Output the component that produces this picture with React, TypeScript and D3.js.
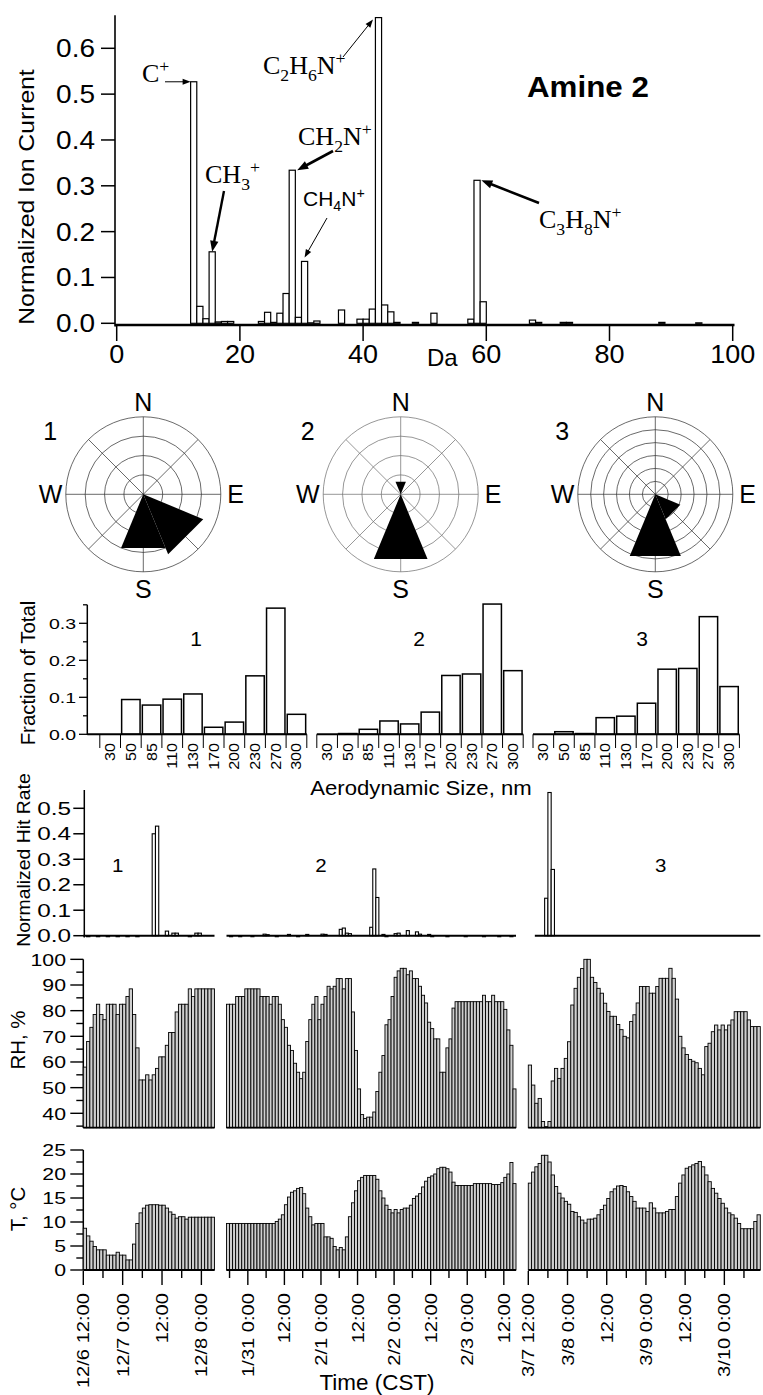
import React from 'react';
import * as d3 from 'd3';

const SANS = '"Liberation Sans", Arial, Helvetica, sans-serif';
const SERIF = '"Liberation Serif", "Times New Roman", Times, serif';

// ---------- Mass spectrum (Amine 2) ----------
const massNumbers = [12, 13, 14, 15, 16, 17, 18, 23, 24, 25, 26, 27, 28, 29, 30, 31, 32, 36, 39, 40, 41, 42, 43, 44, 45, 48, 51, 57, 58, 59, 67, 68, 72, 73, 88, 94];
const ionCurrent = [0.527, 0.037, 0.01, 0.156, 0.003, 0.004, 0.004, 0.004, 0.024, 0.002, 0.022, 0.065, 0.334, 0.013, 0.135, 0.001, 0.005, 0.029, 0.009, 0.009, 0.031, 0.667, 0.04, 0.025, 0.002, 0.002, 0.022, 0.009, 0.312, 0.047, 0.007, 0.002, 0.002, 0.002, 0.002, 0.001];
const massTicks = [0, 20, 40, 60, 80, 100];
const ionTicks = [0, 0.1, 0.2, 0.3, 0.4, 0.5, 0.6];

// ---------- Wind roses (petal length in ring units, 8 compass sectors) ----------
const compass = ['N', 'NE', 'E', 'SE', 'S', 'SW', 'W', 'NW'];
const windRose1 = [0, 0, 0, 3.35, 3.0, 0, 0, 0];
const windRose2 = [0.7, 0, 0, 0, 3.62, 0, 0, 0];
const windRose3 = [0, 0, 0, 2.1, 5.17, 0, 0, 0];
const roseRings = [4, 4, 6];

// ---------- Size distributions ----------
const sizeBins = ['30', '50', '85', '110', '130', '170', '200', '230', '270', '300'];
const sizeFraction1 = [0, 0.094, 0.079, 0.095, 0.109, 0.019, 0.033, 0.158, 0.341, 0.054];
const sizeFraction2 = [0, 0.002, 0.0135, 0.036, 0.028, 0.06, 0.159, 0.163, 0.352, 0.172];
const sizeFraction3 = [0, 0.007, 0.002, 0.045, 0.049, 0.084, 0.176, 0.178, 0.318, 0.129];
const fractionTicks = [0, 0.1, 0.2, 0.3];

// ---------- Hourly time series ----------
const hitRate1 = [0, -0.004, 0, 0, -0.004, 0, 0, -0.004, 0, 0, -0.004, 0, 0, -0.004, 0, 0, -0.004, 0, 0, 0, 0, 0.4, 0.43, 0, 0, 0.018, 0, 0.01, 0.01, 0, 0, 0, -0.004, 0, 0.01, 0.01, 0, 0, 0, 0];
const hitRate2 = [
  0, -0.004, 0, 0, -0.004, 0, 0, 0, -0.004, 0,
  0, 0, 0.006, 0.004, 0, 0, -0.004, 0, 0, 0,
  0.005, 0, 0, -0.004, 0, 0, 0.005, 0, 0, 0,
  0, 0.006, 0.005, 0, 0, 0, 0, 0.025, 0.03, 0.01,
  0.008, 0, 0, 0, 0, 0, 0, 0.033, 0.262, 0.15,
  0, 0.005, -0.004, 0, 0, 0.008, 0.01, 0, 0, 0.02,
  0, 0, 0.015, 0.006, 0, 0, 0.005, -0.004, 0, 0,
  0, 0, -0.004, 0, 0, 0, 0, 0, -0.004, 0,
  0, 0, 0, 0, -0.004, 0, 0, 0, 0, -0.004,
  0, 0, 0, -0.004, 0];
const hitRate3: (number | null)[] = [
  null, null, 0, 0, 0, 0.147, 0.562, 0.26, 0, 0,
  0, 0, 0, 0, 0, 0, 0, 0, 0, 0,
  0, 0, 0, 0, 0, 0, 0, 0, 0, 0,
  0, 0, 0, 0, 0, 0, 0, 0, 0, 0,
  0, 0, 0, 0, 0, 0, 0, 0, 0, 0,
  0, 0, 0, 0, 0, 0, 0, 0, 0, 0,
  0, 0, 0, 0, 0, 0, 0, 0, 0, 0,
  0];

const rh1 = [58, 68, 73.5, 78.5, 82.5, 78.5, 76.5, 82.5, 82.5, 82.5, 78.5, 82.5, 82.5, 85.5, 88.5, 78.5, 65.5, 53, 53, 55, 53, 55, 57.5, 62, 62, 66.5, 71.5, 71.5, 79.5, 82.5, 82.5, 82.5, 88.5, 85.5, 88.5, 88.5, 88.5, 88.5, 88.5, 88.5];
const rh2 = [
  82.5, 82.5, 82.5, 85.5, 85.5, 85.5, 88.5, 88.5, 88.5, 88.5,
  88.5, 85.5, 85.5, 85.5, 82.5, 85.5, 85.5, 82.5, 76.5, 73.5,
  66.5, 64.5, 59.5, 56, 53.5, 56, 68, 76.5, 82.5, 85.5,
  76.5, 82.5, 85.5, 89.5, 88.5, 89.5, 92.5, 92.5, 88.5, 92.5,
  92.5, 79.5, 64.5, 49.5, 39.5, 38, 38.5, 38.5, 40.5, 48.5,
  56, 62.5, 74.5, 76.5, 85.5, 93, 95.5, 96.5, 96.5, 94,
  95.5, 92.5, 92.5, 89.5, 86, 83, 75.5, 73, 69, 69,
  56, 56, 65.5, 69, 81, 83.5, 83.5, 83.5, 83.5, 83.5,
  83.5, 83.5, 83.5, 83.5, 86, 83.5, 83.5, 86, 83.5, 83.5,
  83.5, 80.5, 72.5, 66.5, 49.5];
const rh3 = [
  58.8, 51, 43.9, 45.8, 36.8, 34.8, 36.8, 52.6, 57.5, 53.6,
  57.5, 61.4, 67.9, 82.2, 88.7, 93, 96.4, 100, 100, 93,
  91, 88.7, 86.8, 82.9, 79.7, 77.8, 77.8, 74.6, 72.6, 70,
  69.4, 75.8, 78.4, 83, 89.4, 89.4, 89.4, 86.8, 86.8, 89.4,
  92.6, 92.6, 92.6, 96.5, 92.6, 84.5, 70, 65.5, 62.9, 61,
  60.3, 59.7, 57.5, 55, 66, 67.3, 71.8, 74.4, 72.5, 74.4,
  72.5, 74.4, 76.4, 79.6, 79.6, 79.6, 79.6, 76.4, 73.8, 73.8,
  73.8];

const temp1 = [8.7, 7.1, 6, 4.9, 4.2, 4.2, 4.2, 3.1, 3.1, 3.1, 3.7, 3.1, 3.1, 2.1, 2.1, 5.4, 9.7, 11.9, 12.9, 13.5, 13.6, 13.6, 13.6, 13.5, 13.5, 12.9, 12.1, 11.6, 10.8, 11.1, 11.1, 10.6, 11, 11, 11, 11, 11, 11, 11, 11];
const temp2 = [
  9.7, 9.7, 9.7, 9.7, 9.7, 9.7, 9.7, 9.7, 9.7, 9.7,
  9.7, 9.7, 9.7, 9.7, 9.7, 9.7, 10.1, 10.6, 11.5, 13.6,
  15.2, 16.2, 16.5, 17, 17.2, 15.9, 12.9, 11.1, 9.4, 9.7,
  9.7, 9.7, 6.9, 6.9, 6.6, 4.9, 4.2, 4.7, 4.2, 6.9,
  11.1, 14, 16.5, 18.6, 19.3, 19.7, 19.7, 19.7, 19.7, 18.9,
  16.5, 15, 13.5, 12.6, 11.9, 12.6, 11.9, 12.6, 12.9, 12.9,
  13.5, 14.9, 15.4, 15.9, 17.3, 18.5, 19.3, 19.6, 20, 21.1,
  21.4, 21.4, 21.1, 20.4, 18.3, 17.6, 17.6, 17.6, 17.6, 17.6,
  17.6, 18, 18, 18, 18, 18, 18, 17.8, 17.8, 17.8,
  18.2, 19.3, 20, 22.4, 18];
const temp3 = [
  18.1, 20.4, 21.5, 22.2, 23.9, 23.9, 22.5, 19.8, 17.4, 16,
  15, 14.3, 13.7, 12.2, 12, 11.1, 10.4, 9.8, 10.6, 10.6,
  10.8, 11.5, 12.6, 13.5, 14.9, 16.3, 16.9, 17.5, 17.6, 17.4,
  16.3, 15.3, 14.3, 12.9, 12.9, 12.9, 12.2, 14, 12.9, 11.9,
  11.9, 11.9, 12.2, 12.6, 12.6, 15.3, 18.1, 19.8, 21.2, 21.5,
  21.9, 22.2, 22.6, 21.5, 19.8, 18.4, 17, 16, 14.9, 13.9,
  12.9, 11.9, 11.5, 10.8, 9.7, 8.6, 8.6, 8.6, 8.6, 10.1,
  11.5];

const hitTicks = [0, 0.1, 0.2, 0.3, 0.4, 0.5];
const rhTicks = [40, 50, 60, 70, 80, 90, 100];
const tempTicks = [0, 5, 10, 15, 20, 25];

type Part = { t: string; k?: 'sub' | 'sup' };

// text with an optional stretch along its reading direction
function Txt(props: {
  x: number; y: number; size: number; anchor?: string; rot?: number; sx?: number;
  weight?: string | number; family?: string; children: React.ReactNode;
}) {
  const { x, y, size, anchor = 'start', rot = 0, sx = 1, weight, family = SANS, children } = props;
  return (
    <text
      transform={`translate(${x},${y}) rotate(${rot}) scale(${sx},1)`}
      fontSize={size}
      textAnchor={anchor as any}
      fontFamily={family}
      fontWeight={weight as any}
      fill="#000"
    >
      {children}
    </text>
  );
}

function Formula({ x, y, parts, size, family }: { x: number; y: number; parts: Part[]; size: number; family: string }) {
  let cur = 0;
  return (
    <text x={x} y={y} fontSize={size} fontFamily={family} fill="#000">
      {parts.map((p, i) => {
        const target = p.k === 'sub' ? size * 0.26 : p.k === 'sup' ? -size * 0.4 : 0;
        const dy = target - cur;
        cur = target;
        return (
          <tspan key={i} dy={dy} fontSize={p.k ? size * 0.68 : size}>
            {p.t}
          </tspan>
        );
      })}
    </text>
  );
}

function Arrow({ x1, y1, x2, y2, width, head }: { x1: number; y1: number; x2: number; y2: number; width: number; head: number }) {
  const dx = x2 - x1, dy = y2 - y1;
  const L = Math.hypot(dx, dy);
  const ux = dx / L, uy = dy / L;
  const bx = x2 - ux * head, by = y2 - uy * head;
  const hw = head * 0.38;
  const pts = [
    [x2, y2],
    [bx - uy * hw, by + ux * hw],
    [bx + uy * hw, by - ux * hw],
  ].map((p) => p.join(',')).join(' ');
  return (
    <g>
      <line x1={x1} y1={y1} x2={bx + ux * 1} y2={by + uy * 1} stroke="#000" strokeWidth={width} />
      <polygon points={pts} fill="#000" />
    </g>
  );
}

// peak annotations: label anchor, arrow tail, and where on the bar the arrow points
const peakLabels: {
  mass: number; parts: Part[]; family: string; size: number; at: [number, number];
  from: [number, number]; tipMass: number; tipDy: number; width: number; head: number;
}[] = [
  { mass: 12, parts: [{ t: 'C' }, { t: '+', k: 'sup' }], family: SERIF, size: 26, at: [142, 82], from: [165, 81.8], tipMass: 12, tipDy: 0, width: 1, head: 8 },
  { mass: 15, parts: [{ t: 'CH' }, { t: '3', k: 'sub' }, { t: '+', k: 'sup' }], family: SERIF, size: 26, at: [205, 183], from: [224, 191], tipMass: 15.5, tipDy: 0, width: 2.4, head: 11 },
  { mass: 42, parts: [{ t: 'C' }, { t: '2', k: 'sub' }, { t: 'H' }, { t: '6', k: 'sub' }, { t: 'N' }, { t: '+', k: 'sup' }], family: SERIF, size: 26, at: [263, 74], from: [343, 57], tipMass: 41.6, tipDy: 2, width: 1, head: 8 },
  { mass: 28, parts: [{ t: 'CH' }, { t: '2', k: 'sub' }, { t: 'N' }, { t: '+', k: 'sup' }], family: SERIF, size: 26, at: [298, 145], from: [333, 151], tipMass: 29.3, tipDy: 0, width: 2.6, head: 11 },
  { mass: 30, parts: [{ t: 'CH' }, { t: '4', k: 'sub' }, { t: 'N' }, { t: '+', k: 'sup' }], family: SANS, size: 21, at: [303, 206], from: [327, 218], tipMass: 30.5, tipDy: -4, width: 1, head: 8 },
  { mass: 58, parts: [{ t: 'C' }, { t: '3', k: 'sub' }, { t: 'H' }, { t: '8', k: 'sub' }, { t: 'N' }, { t: '+', k: 'sup' }], family: SERIF, size: 26, at: [539, 228], from: [539, 203], tipMass: 59.2, tipDy: 0, width: 2.6, head: 11 },
];

export default function App() {
  // ----- spectrum scales -----
  const xMass = d3.scaleLinear().domain([0, 100]).range([116.7, 732.7]);
  const yIon = d3.scaleLinear().domain([0, 0.6]).range([323.3, 48.3]);
  const fmt1 = d3.format('.1f');

  // ----- wind roses -----
  const roseCx = [143.3, 400.7, 655.3];
  const roseCy = 494.3;
  const roseR = 77.5;
  const roseData = [windRose1, windRose2, windRose3];

  // ----- size histograms -----
  const yFrac = d3.scaleLinear().domain([0, 0.1]).range([734.3, 697.3]);
  const histRanges: [number, number][] = [[99.8, 306.8], [316.8, 523.2], [533, 739.4]];
  const histData = [sizeFraction1, sizeFraction2, sizeFraction3];
  const histNumX = [196, 419, 642];

  // ----- time series -----
  const H1 = 3600e3;
  const periods = [
    { start: Date.UTC(2007, 11, 6, 12), hit: hitRate1 as (number | null)[], rh: rh1, temp: temp1, range: [83.3, 214.5], num: '1', numX: 117.6 },
    { start: Date.UTC(2008, 0, 30, 17), hit: hitRate2 as (number | null)[], rh: rh2, temp: temp2, range: [226.5, 516], num: '2', numX: 321 },
    { start: Date.UTC(2008, 2, 7, 12), hit: hitRate3, rh: rh3, temp: temp3, range: [528.3, 760.3], num: '3', numX: 660.8 },
  ];
  const yHit = d3.scaleLinear().domain([0, 0.5]).range([935.7, 808.3]);
  const yRH = d3.scaleLinear().domain([40, 90]).range([1113.3, 985]);
  const yT = d3.scaleLinear().domain([0, 25]).range([1270, 1150]);
  const rhBase = 1127.7;
  const axX = 83.3;

  const barFill = '#cfcfcf';

  return (
    <svg width={763} height={1395} style={{ position: 'absolute', left: 0, top: 0, background: '#fff' }}>
      <rect x={0} y={0} width={763} height={1395} fill="#fff" />

      {/* ================= Mass spectrum ================= */}
      <g>
        {massNumbers.map((m, i) => (
          <rect
            key={m}
            x={xMass(m)}
            y={yIon(ionCurrent[i])}
            width={xMass(m + 1) - xMass(m)}
            height={yIon(0) - yIon(ionCurrent[i])}
            fill="#fff"
            stroke="#000"
            strokeWidth={1.2}
          />
        ))}
        <line x1={115} x2={734.5} y1={325} y2={325} stroke="#000" strokeWidth={2.6} />
        <line x1={115} x2={115} y1={yIon(0.672)} y2={326.5} stroke="#000" strokeWidth={1.6} />
        {ionTicks.map((t) => (
          <g key={t}>
            <line x1={101} x2={115} y1={yIon(t)} y2={yIon(t)} stroke="#000" strokeWidth={1.5} />
            <Txt x={95} y={yIon(t) + 9} size={25} anchor="end" sx={1.12}>{fmt1(t)}</Txt>
          </g>
        ))}
        {massTicks.map((t) => (
          <g key={t}>
            <line x1={xMass(t)} x2={xMass(t)} y1={326} y2={341} stroke="#000" strokeWidth={1.5} />
            <Txt x={xMass(t)} y={363} size={25} anchor="middle" sx={1.08}>{String(t)}</Txt>
          </g>
        ))}
        <Txt x={427} y={366} size={24}>Da</Txt>
        <Txt x={33.5} y={197} size={21.5} anchor="middle" rot={-90} sx={1.15}>Normalized Ion Current</Txt>
        <Txt x={527} y={97} size={29} weight="bold" sx={1.08}>Amine 2</Txt>

        {peakLabels.map((p, i) => {
          const v = ionCurrent[massNumbers.indexOf(p.mass)];
          const tx = xMass(p.tipMass);
          const ty = yIon(v) + p.tipDy;
          return (
            <g key={i}>
              <Formula x={p.at[0]} y={p.at[1]} parts={p.parts} size={p.size} family={p.family} />
              <Arrow x1={p.from[0]} y1={p.from[1]} x2={tx} y2={ty} width={p.width} head={p.head} />
            </g>
          );
        })}
      </g>

      {/* ================= Wind roses ================= */}
      {roseData.map((vals, ri) => {
        const cx = roseCx[ri];
        const rings = roseRings[ri];
        const rs = d3.scaleLinear().domain([0, rings]).range([0, roseR]);
        const pt = (bearing: number, r: number) => {
          const a = (bearing * Math.PI) / 180;
          return [cx + r * Math.sin(a), roseCy - r * Math.cos(a)];
        };
        const gridCol = ri === 1 ? '#6a6a6a' : '#2a2a2a';
        return (
          <g key={ri}>
            {d3.range(1, rings + 1).map((k) => (
              <circle key={k} cx={cx} cy={roseCy} r={rs(k)} fill="none" stroke={gridCol} strokeWidth={0.7} />
            ))}
            {compass.map((c, di) => {
              const [x2, y2] = pt(di * 45, roseR);
              return <line key={c} x1={cx} y1={roseCy} x2={x2} y2={y2} stroke={gridCol} strokeWidth={0.7} />;
            })}
            {vals.map((v, di) => {
              if (v <= 0) return null;
              const b = di * 45;
              const p1 = pt(b - 22.5, rs(v));
              const p2 = pt(b + 22.5, rs(v));
              return <polygon key={di} points={`${cx},${roseCy} ${p1.join(',')} ${p2.join(',')}`} fill="#000" />;
            })}
            <Txt x={cx} y={roseCy - 83.3} size={25} anchor="middle">N</Txt>
            <Txt x={cx} y={roseCy + 103.7} size={25} anchor="middle">S</Txt>
            <Txt x={cx - 81} y={roseCy + 8.7} size={25} anchor="end">W</Txt>
            <Txt x={cx + 84} y={roseCy + 8.7} size={25}>E</Txt>
            <Txt x={cx - 93} y={440} size={25} anchor="middle">{String(ri + 1)}</Txt>
          </g>
        );
      })}

      {/* ================= Size distributions ================= */}
      <g>
        <line x1={87.3} x2={87.3} y1={yFrac(0.35)} y2={735} stroke="#000" strokeWidth={1.5} />
        {d3.range(0, 0.351, 0.05).map((t) => {
          const major = Math.abs(Math.round(t * 10) - t * 10) < 1e-6;
          return <line key={t} x1={major ? 79 : 83} x2={87.3} y1={yFrac(t)} y2={yFrac(t)} stroke="#000" strokeWidth={1.3} />;
        })}
        {fractionTicks.map((t) => (
          <Txt key={t} x={76} y={yFrac(t) + 5.5} size={15} anchor="end" sx={1.3}>{fmt1(t)}</Txt>
        ))}
        {histData.map((vals, hi) => {
          const xb = d3.scaleBand<string>().domain(sizeBins).range(histRanges[hi]).paddingInner(0.11).paddingOuter(0.055);
          const step = xb.step();
          const r0 = histRanges[hi][0];
          return (
            <g key={hi}>
              {vals.map((v, i) => (
                <rect
                  key={i}
                  x={xb(sizeBins[i])!}
                  y={yFrac(v)}
                  width={xb.bandwidth()}
                  height={yFrac(0) - yFrac(v)}
                  fill="#fff"
                  stroke="#000"
                  strokeWidth={1.5}
                />
              ))}
              <line x1={hi === 0 ? 87.3 : r0} x2={histRanges[hi][1]} y1={734.3} y2={734.3} stroke="#000" strokeWidth={2} />
              {d3.range(0, sizeBins.length + 1).map((k) => (
                <line key={k} x1={r0 + k * step} x2={r0 + k * step} y1={734.3} y2={748} stroke="#000" strokeWidth={1} />
              ))}
              {sizeBins.map((b) => (
                <Txt key={b} x={xb(b)! + xb.bandwidth() / 2 + 5} y={743} size={14} anchor="end" rot={-90} sx={1.15}>{b}</Txt>
              ))}
              <Txt x={histNumX[hi]} y={646} size={20} anchor="middle" sx={1.05}>{String(hi + 1)}</Txt>
            </g>
          );
        })}
        <Txt x={34.5} y={673} size={20} anchor="middle" rot={-90} sx={1.02}>Fraction of Total</Txt>
        <Txt x={421} y={795} size={20.5} anchor="middle" sx={1.08}>Aerodynamic Size, nm</Txt>
      </g>

      {/* ================= Hit rate / RH / T time series ================= */}
      <g>
        {/* y axes */}
        <line x1={axX + 1} x2={axX + 1} y1={790} y2={937.5} stroke="#000" strokeWidth={1.5} />
        {hitTicks.map((t) => (
          <g key={t}>
            <line x1={axX - 10} x2={axX + 1} y1={yHit(t)} y2={yHit(t)} stroke="#000" strokeWidth={1.5} />
            <Txt x={71} y={yHit(t) + 6.5} size={18} anchor="end" sx={1.35}>{fmt1(t)}</Txt>
          </g>
        ))}
        <Txt x={30} y={860} size={19} anchor="middle" rot={-90} sx={1.02}>Normalized Hit Rate</Txt>

        <line x1={axX} x2={axX} y1={yRH(100)} y2={rhBase} stroke="#000" strokeWidth={1.5} />
        {d3.range(35, 100.1, 5).map((t) => {
          const major = t % 10 === 0;
          return <line key={t} x1={axX - (major ? 13 : 7)} x2={axX} y1={yRH(t)} y2={yRH(t)} stroke="#000" strokeWidth={1.4} />;
        })}
        {rhTicks.map((t) => (
          <Txt key={t} x={66} y={yRH(t) + 6.2} size={17} anchor="end" sx={1.25}>{String(t)}</Txt>
        ))}
        <Txt x={25} y={1040} size={20} anchor="middle" rot={-90} sx={1.02}>RH, %</Txt>

        <line x1={axX} x2={axX} y1={yT(25)} y2={1270} stroke="#000" strokeWidth={1.5} />
        {d3.range(0, 25.1, 2.5).map((t) => {
          const major = t % 5 === 0;
          return <line key={t} x1={axX - (major ? 13 : 7)} x2={axX} y1={yT(t)} y2={yT(t)} stroke="#000" strokeWidth={1.4} />;
        })}
        {tempTicks.map((t) => (
          <Txt key={t} x={66} y={yT(t) + 6.2} size={17} anchor="end" sx={1.25}>{String(t)}</Txt>
        ))}
        <Txt x={25} y={1209} size={20} anchor="middle" rot={-90} sx={1.02}>T, °C</Txt>

        {periods.map((p, pi) => {
          const n = p.rh.length;
          const end = p.start + n * H1;
          const xt = d3.scaleUtc().domain([new Date(p.start), new Date(end)]).range(p.range);
          const bx = (i: number) => xt(new Date(p.start + i * H1));
          const ticks = d3.utcHour.every(6)!.range(new Date(p.start), new Date(end + 1));
          const firstHit = p.hit.findIndex((v) => v !== null);
          return (
            <g key={pi}>
              {/* hit rate */}
              {p.hit.map((v, i) => {
                if (v === null) return null;
                const y0 = yHit(0);
                const y1 = yHit(v);
                return (
                  <rect key={i} x={bx(i)} y={Math.min(y0, y1)} width={bx(i + 1) - bx(i)} height={Math.abs(y0 - y1)}
                    fill="#fff" stroke="#000" strokeWidth={1.1} />
                );
              })}
              <line x1={bx(firstHit)} x2={p.range[1]} y1={yHit(0)} y2={yHit(0)} stroke="#000" strokeWidth={2} />
              <Txt x={p.numX} y={871.7} size={19} anchor="middle" sx={1.08}>{p.num}</Txt>

              {/* relative humidity */}
              {p.rh.map((v, i) => (
                <rect key={i} x={bx(i)} y={yRH(v)} width={bx(i + 1) - bx(i)} height={rhBase - yRH(v)}
                  fill={barFill} stroke="#000" strokeWidth={0.9} />
              ))}
              <line x1={p.range[0]} x2={p.range[1]} y1={rhBase} y2={rhBase} stroke="#000" strokeWidth={1.8} />

              {/* temperature */}
              {p.temp.map((v, i) => (
                <rect key={i} x={bx(i)} y={yT(v)} width={bx(i + 1) - bx(i)} height={yT(0) - yT(v)}
                  fill={barFill} stroke="#000" strokeWidth={0.9} />
              ))}
              <line x1={p.range[0]} x2={p.range[1]} y1={1270} y2={1270} stroke="#000" strokeWidth={1.8} />

              {/* time axis */}
              {ticks.map((d) => {
                const h = d.getUTCHours();
                const major = h % 12 === 0;
                const x = xt(d);
                const first = d.getTime() === p.start;
                const md = `${d.getUTCMonth() + 1}/${d.getUTCDate()}`;
                const label = h === 0 ? `${md} 0:00` : first ? `${md} 12:00` : '12:00';
                return (
                  <g key={d.getTime()}>
                    <line x1={x} x2={x} y1={1271} y2={major ? 1285 : 1278} stroke="#000" strokeWidth={1.4} />
                    {major && (
                      <Txt x={x + 6} y={1293} size={16.5} anchor="end" rot={-90} sx={1.22}>{label}</Txt>
                    )}
                  </g>
                );
              })}
            </g>
          );
        })}
        <Txt x={377} y={1390} size={22} anchor="middle" sx={1.02}>Time (CST)</Txt>
      </g>
    </svg>
  );
}
